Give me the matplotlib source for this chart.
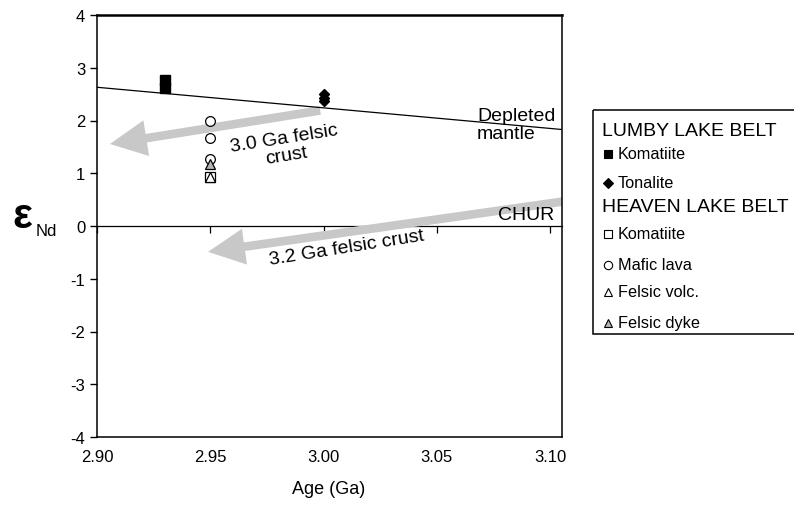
import matplotlib
matplotlib.use("Agg")  # no display
import matplotlib.pyplot as plt
from matplotlib.patches import FancyArrowPatch, Rectangle

plt.rcParams['font.family'] = ['Liberation Sans', 'DejaVu Sans']
plt.rcParams['axes.unicode_minus'] = False

# --- data (age in Ga, epsilon Nd) ---
# Lumby Lake belt
lumby_kom_age = [2.93, 2.93]
lumby_kom_end = [2.76, 2.62]
tonalite_age = [3.00, 3.00, 3.00]
tonalite_end = [2.50, 2.43, 2.37]
# Heaven Lake belt
heaven_kom_age = [2.95]
heaven_kom_end = [0.92]
mafic_age = [2.95, 2.95, 2.95]
mafic_end = [2.00, 1.66, 1.27]
fvolc_age = [2.95]
fvolc_end = [0.92]
fdyke_age = [2.95]
fdyke_end = [1.17]

# depleted mantle curve
dm_age = [2.90, 3.105]
dm_end = [2.63, 1.83]

# crustal evolution arrows: (tail, head)
arrow_30 = [(2.9985, 2.19), (2.9057, 1.555)]
arrow_32 = [(3.11, 0.49), (2.949, -0.49)]

xticks = [2.90, 2.95, 3.00, 3.05, 3.10]
xtick_labels = ['2.90', '2.95', '3.00', '3.05', '3.10']
yticks = [-4, -3, -2, -1, 0, 1, 2, 3, 4]

W, H = 794, 506
fig = plt.figure(figsize=(W / 100, H / 100), dpi=100)
pos = [97 / W, 1 - 438 / H, (561.5 - 97) / W, (438 - 16) / H]
xlim = (2.90, 3.105)
ylim = (-4, 4)

# axis through zero (CHUR) with its ticks, sits under the main axes
ax0 = fig.add_axes(pos)
ax0.set_xlim(xlim)
ax0.set_ylim(ylim)
for s in ['top', 'left', 'right']:
    ax0.spines[s].set_visible(False)
ax0.spines['bottom'].set_position(('data', 0))
ax0.spines['bottom'].set_linewidth(0.9)
ax0.set_xticks(xticks)
ax0.tick_params(axis='x', direction='out', length=5, width=0.9, labelbottom=False)
ax0.set_yticks([])

ax = fig.add_axes(pos, facecolor='none')
ax.set_xlim(xlim)
ax.set_ylim(ylim)
ax.set_xticks(xticks)
ax.set_xticklabels(xtick_labels)
ax.set_yticks(yticks)
ax.tick_params(axis='x', length=0, pad=9.0, labelsize=12)
ax.tick_params(axis='y', direction='out', length=5, width=1, pad=3.5, labelsize=12)
for s in ['left', 'bottom', 'right']:
    ax.spines[s].set_linewidth(1.1)
ax.spines['top'].set_linewidth(1.8)

ax.plot(dm_age, dm_end, color='black', lw=0.9, zorder=2)

grey = '#c8c8c8'
for tail, head in [arrow_30, arrow_32]:
    ax.add_patch(FancyArrowPatch(tail, head, mutation_scale=10, color=grey, lw=0,
                                 arrowstyle='simple,head_length=2.65,head_width=2.6,tail_width=0.62',
                                 shrinkA=0, shrinkB=0, zorder=1.5))

ms = 7
ax.plot(lumby_kom_age, lumby_kom_end, 's', ms=ms, mfc='black', mec='black', zorder=3)
ax.plot(tonalite_age, tonalite_end, 'D', ms=5.5, mfc='black', mec='black', zorder=3)
ax.plot(heaven_kom_age, heaven_kom_end, 's', ms=ms, mfc='white', mec='black', mew=0.9, zorder=3)
ax.plot(mafic_age, mafic_end, 'o', ms=7, mfc='white', mec='black', mew=0.9, zorder=3)
ax.plot(fvolc_age, fvolc_end, '^', ms=6.5, mfc='white', mec='black', mew=0.9, zorder=4)
ax.plot(fdyke_age, fdyke_end, '^', ms=6.5, mfc='#b4b4b4', mec='black', mew=0.9, zorder=4)

ax.text(2.983, 1.50, '3.0 Ga felsic\ncrust', rotation=9, fontsize=14,
        ha='center', va='center', rotation_mode='anchor', linespacing=1.05)
ax.text(3.0103, -0.40, '3.2 Ga felsic crust', rotation=9, fontsize=14,
        ha='center', va='center', rotation_mode='anchor')
ax.text(3.102, 0.05, 'CHUR', fontsize=14, ha='right', va='bottom')
ax.text(3.0677, 1.93, 'Depleted\nmantle', fontsize=14, ha='left', va='center',
        linespacing=1.1)

# axis titles
fig.text(22 / W, 1 - 217 / H, 'ε', fontsize=30, fontweight='bold', ha='center', va='center')
fig.text(46 / W, 1 - 232 / H, 'Nd', fontsize=12, ha='center', va='center')
fig.text(329 / W, 1 - 490 / H, 'Age (Ga)', fontsize=13, ha='center', va='center')

# legend box drawn in pixel-like coordinates
lax = fig.add_axes([592 / W, 1 - 335 / H, 215 / W, 225 / H])
lax.set_xlim(0, 215)
lax.set_ylim(335, 110)
lax.axis('off')
lax.add_patch(Rectangle((0.5, 110.5), 214, 224, fill=False, lw=1.1, ec='black', clip_on=False))

lax.text(10, 132, 'LUMBY LAKE BELT', fontsize=14, va='center', ha='left')
lax.text(10, 208, 'HEAVEN LAKE BELT', fontsize=14, va='center', ha='left')
entries = [
    (155, 'Komatiite', 's', 'black', 6),
    (184, 'Tonalite', 'D', 'black', 5),
    (235, 'Komatiite', 's', 'white', 6),
    (266, 'Mafic lava', 'o', 'white', 6),
    (293, 'Felsic volc.', '^', 'white', 6),
    (324, 'Felsic dyke', '^', '#b4b4b4', 6),
]
for y, label, mk, fc, size in entries:
    lax.plot([15.5], [y], mk, ms=size, mfc=fc, mec='black', mew=0.8, clip_on=False)
    lax.text(26, y, label, fontsize=11.7, va='center', ha='left')

fig.savefig('out.png', dpi=100)
